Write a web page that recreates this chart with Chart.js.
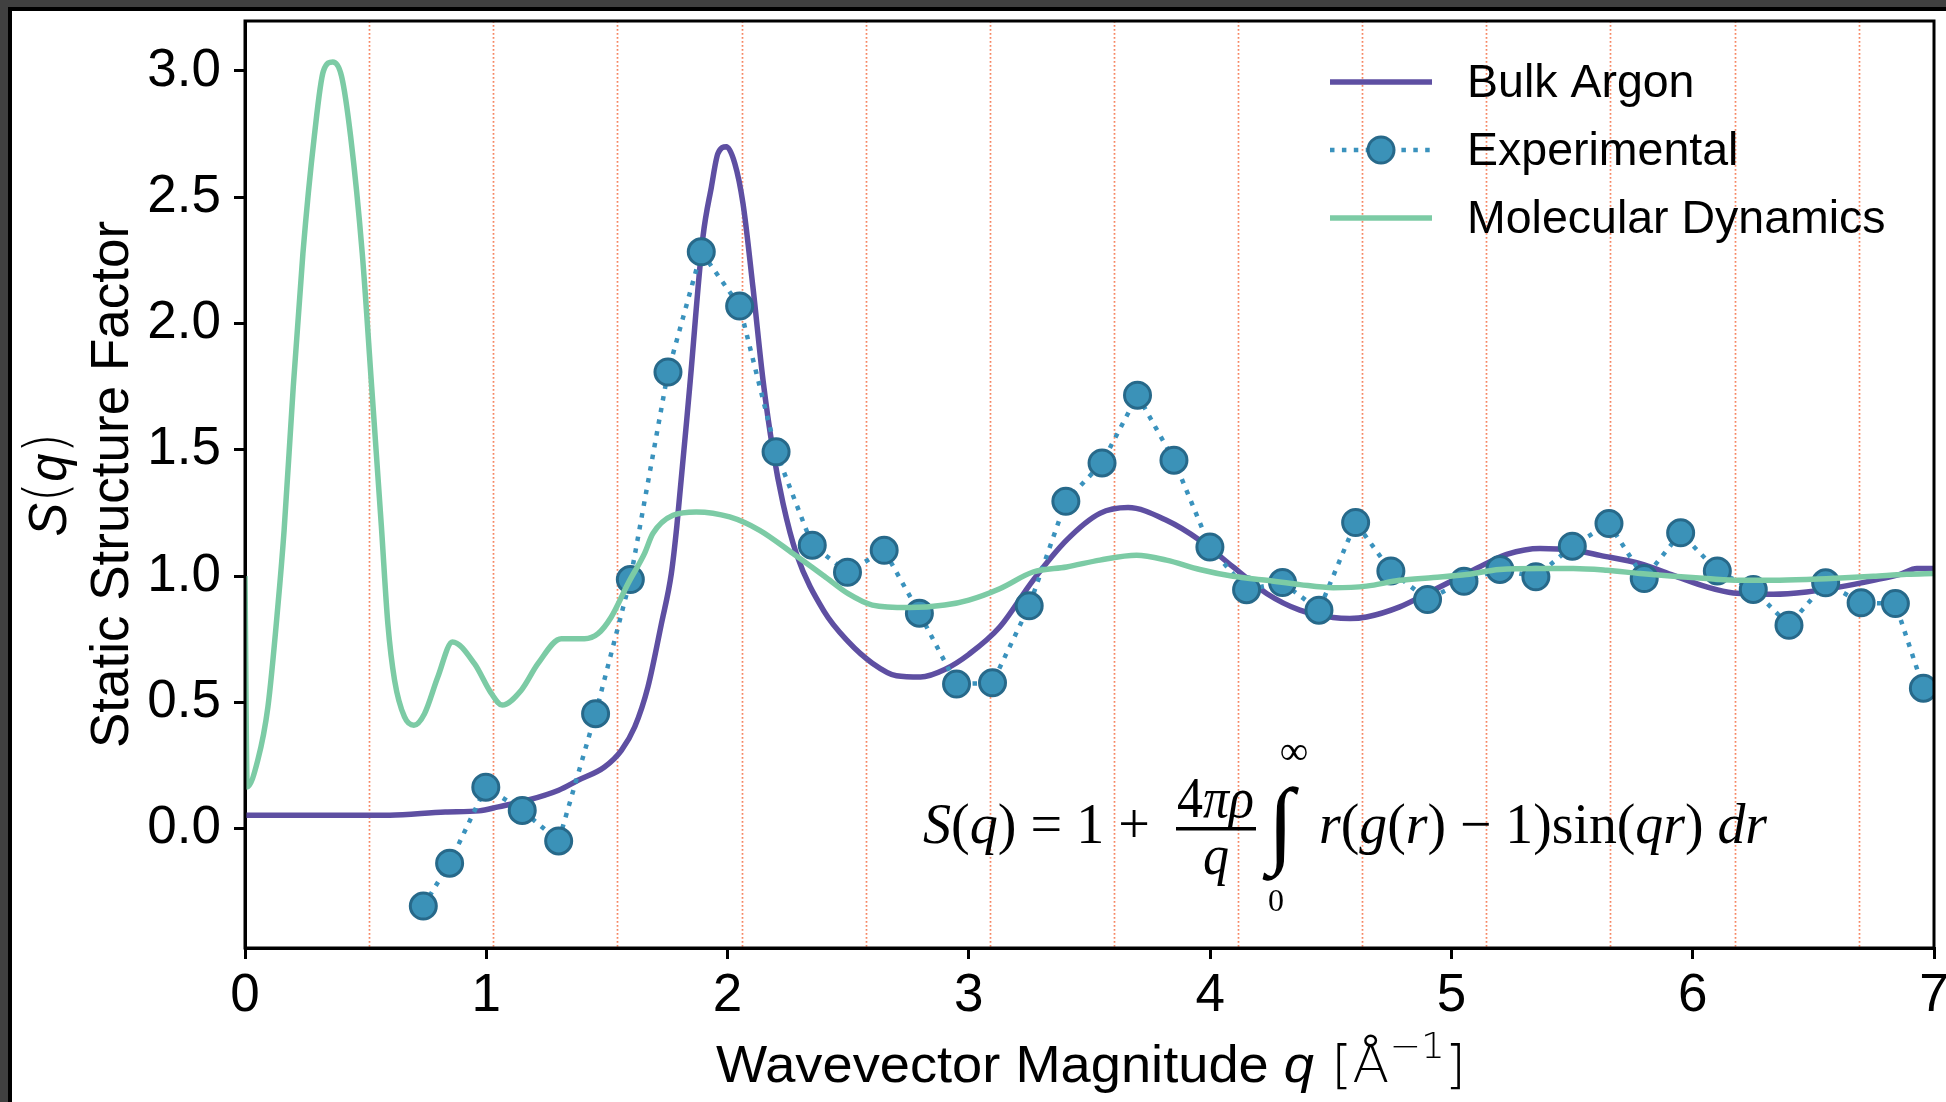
<!DOCTYPE html>
<html><head><meta charset="utf-8">
<script src="https://cdn.jsdelivr.net/npm/chart.js@4.4.1/dist/chart.umd.min.js"></script>
<style>
html,body{margin:0;padding:0;width:1946px;height:1102px;overflow:hidden;background:#404040;}
#frame{position:absolute;left:8px;top:7px;width:1980px;height:1130px;background:#fff;border-left:4px solid #000;border-top:4px solid #000;}
#wrap{position:absolute;left:0;top:0;width:1960px;height:1102px;}
</style></head><body>
<div id="frame"></div>
<div id="wrap"><canvas id="c" width="1960" height="1102"></canvas></div>
<script>
// ---- data ----
const xTicks = [0,1,2,3,4,5,6,7];
const yTicks = [0,0.5,1.0,1.5,2.0,2.5,3.0];
const refLineQ = [0.514,1.029,1.543,2.058,2.572,3.087,3.601,4.116,4.630,5.145,5.659,6.174,6.688];

const argonQ = [0.0,0.3,0.6,0.83,0.97,1.05,1.17,1.30,1.38,1.49,1.56,1.615,1.67,1.726,1.767,1.79,1.843,1.898,1.933,1.96,1.995,2.03,2.064,2.105,2.147,2.188,2.23,2.285,2.4,2.5,2.6,2.7,2.8,2.9,3.0,3.128,3.266,3.405,3.543,3.66,3.819,3.957,4.095,4.234,4.372,4.51,4.579,4.648,4.786,4.925,5.063,5.173,5.229,5.367,5.505,5.616,5.782,5.92,6.058,6.168,6.334,6.472,6.611,6.749,6.859,6.929,7.0];
const argonS = [0.053,0.053,0.053,0.066,0.07,0.086,0.112,0.152,0.191,0.244,0.31,0.402,0.561,0.812,1.01,1.2,1.749,2.343,2.541,2.673,2.70,2.634,2.475,2.145,1.775,1.498,1.287,1.089,0.86,0.74,0.655,0.605,0.6,0.63,0.69,0.798,0.983,1.142,1.248,1.271,1.221,1.142,1.036,0.931,0.865,0.836,0.832,0.838,0.878,0.944,1.01,1.063,1.086,1.109,1.102,1.082,1.049,1.003,0.957,0.933,0.928,0.937,0.957,0.983,1.007,1.03,1.03];

const expQ = [0.739,0.848,0.998,1.149,1.300,1.453,1.597,1.753,1.891,2.050,2.201,2.351,2.497,2.649,2.795,2.949,3.098,3.25,3.402,3.552,3.699,3.850,3.999,4.151,4.30,4.451,4.603,4.749,4.901,5.052,5.201,5.35,5.501,5.653,5.799,5.95,6.102,6.251,6.399,6.551,6.698,6.84,6.956];
const expS = [-0.307,-0.137,0.164,0.072,-0.049,0.455,0.986,1.808,2.284,2.069,1.492,1.122,1.015,1.102,0.853,0.572,0.577,0.882,1.296,1.448,1.716,1.459,1.115,0.946,0.974,0.865,1.212,1.020,0.907,0.979,1.026,0.997,1.118,1.208,0.990,1.171,1.020,0.947,0.805,0.973,0.894,0.891,0.556];

const mdQ = [0.0,0.009,0.053,0.095,0.136,0.162,0.2,0.24,0.287,0.325,0.364,0.40,0.438,0.486,0.525,0.565,0.592,0.62,0.661,0.70,0.744,0.799,0.86,0.951,1.021,1.066,1.145,1.214,1.311,1.407,1.463,1.518,1.59,1.656,1.69,1.774,1.87,2.009,2.133,2.271,2.4,2.5,2.6,2.75,2.9,3.0,3.128,3.266,3.405,3.543,3.695,3.819,3.957,4.095,4.234,4.372,4.51,4.648,4.786,4.925,5.063,5.2,5.367,5.505,5.643,5.782,5.92,6.058,6.196,6.334,6.472,6.611,6.749,6.887,7.0];
const mdS = [1.0,0.165,0.271,0.482,0.878,1.18,1.749,2.277,2.739,3.0,3.036,2.98,2.739,2.277,1.749,1.2,0.812,0.587,0.442,0.409,0.455,0.6,0.739,0.653,0.535,0.489,0.548,0.653,0.752,0.752,0.772,0.838,0.975,1.09,1.168,1.241,1.254,1.234,1.181,1.089,1.0,0.93,0.885,0.875,0.885,0.905,0.950,1.016,1.036,1.063,1.082,1.063,1.026,0.999,0.983,0.966,0.954,0.96,0.983,0.994,1.006,1.026,1.03,1.03,1.023,1.01,0.999,0.99,0.983,0.983,0.986,0.992,0.999,1.007,1.01];

const seriesLabels = ['Bulk Argon','Experimental','Molecular Dynamics'];

// ---- helpers ----
const pts = (qs, ss) => qs.map((q,i)=>({x:q, y:ss[i]}));
const SANS = 'Liberation Sans';
const SERIF = 'Liberation Serif';

function drawRun(ctx, tokens, x0, x1, baseY){
  let w = 0;
  tokens.forEach(t=>{ ctx.font = t[1]; w += ctx.measureText(t[0]).width; });
  const s = (x1 - x0) / w;
  ctx.save();
  ctx.translate(x0, baseY);
  ctx.scale(s, 1);
  ctx.textAlign = 'left'; ctx.textBaseline = 'alphabetic';
  let cx = 0;
  tokens.forEach(t=>{ ctx.font = t[1]; ctx.fillText(t[0], cx, t[2]||0); cx += ctx.measureText(t[0]).width; });
  ctx.restore();
}

const decor = {
  id: 'decor',
  beforeDatasetsDraw(chart){
    const {ctx, chartArea:a, scales:{x}} = chart;
    ctx.save();
    ctx.strokeStyle = 'rgba(245,120,80,0.9)';
    ctx.lineWidth = 1.7;
    ctx.setLineDash([1.7,2.3]);
    refLineQ.forEach(q=>{
      const px = Math.round(x.getPixelForValue(q)) + 0.5;
      ctx.beginPath(); ctx.moveTo(px, a.top); ctx.lineTo(px, a.bottom); ctx.stroke();
    });
    ctx.restore();
  },
  afterDraw(chart){
    const {ctx, chartArea:a} = chart;
    ctx.save();
    // frame
    ctx.strokeStyle = '#000'; ctx.lineWidth = 3; ctx.setLineDash([]);
    ctx.strokeRect(a.left, a.top, a.right - a.left, a.bottom - a.top);

    // legend
    const ds = chart.data.datasets;
    const hx0 = a.right - 604, hx1 = a.right - 502, tx = a.right - 467;
    const rows = [a.top + 61, a.top + 129, a.top + 197];
    ds.forEach((d, i)=>{
      const y = rows[i];
      ctx.save();
      ctx.strokeStyle = d.borderColor; ctx.lineWidth = d.borderWidth;
      ctx.setLineDash(d.borderDash || []);
      ctx.beginPath(); ctx.moveTo(hx0, y); ctx.lineTo(hx1, y); ctx.stroke();
      if (d.pointRadius > 0){
        ctx.setLineDash([]);
        ctx.beginPath(); ctx.arc((hx0+hx1)/2, y, d.pointRadius, 0, Math.PI*2);
        ctx.fillStyle = d.pointBackgroundColor; ctx.fill();
        ctx.lineWidth = d.pointBorderWidth; ctx.strokeStyle = d.pointBorderColor; ctx.stroke();
      }
      ctx.restore();
      ctx.fillStyle = '#000';
      ctx.font = '46.5px ' + SANS;
      ctx.textAlign = 'left'; ctx.textBaseline = 'middle';
      ctx.fillText(seriesLabels[i], tx, y + 2);
    });

    // x title
    ctx.fillStyle = '#000';
    drawRun(ctx, [
      ['Wavevector Magnitude ', '52px ' + SANS],
      ['q', 'italic 52px ' + SANS],
      [' [Å', '200 52px DejaVu Sans'],
      ['\u22121', '200 36px DejaVu Sans', -24],
      [']', '200 52px DejaVu Sans']
    ], 716, 1466, 1082);

    // y title
    const cy = (a.top + a.bottom) / 2;
    ctx.save();
    ctx.translate(128, cy); ctx.rotate(-Math.PI/2);
    ctx.font = '53px ' + SANS; ctx.textAlign = 'center'; ctx.textBaseline = 'alphabetic';
    ctx.fillText('Static Structure Factor', 0, 0);
    ctx.restore();
    ctx.save();
    ctx.translate(66, cy); ctx.rotate(-Math.PI/2);
    const sq = [['S','italic 54px ' + SANS],['(','200 58px DejaVu Sans'],['q','italic 54px ' + SANS],[')','200 58px DejaVu Sans']];
    drawRun(ctx, sq, -52, 52, 0);
    ctx.restore();

    // formula
    const it = 'italic 57px ' + SERIF, rm = '57px ' + SERIF;
    drawRun(ctx, [['S',it],['(',rm],['q',it],[')',rm],[' = 1 +',rm]], 923, 1150, 843);
    ctx.fillRect(1176, 827, 80, 3.5);
    drawRun(ctx, [['4',rm],['\u03c0',it],['\u03c1',it]], 1177, 1254, 817);
    drawRun(ctx, [['q',it]], 1203, 1229, 874);
    ctx.save();
    ctx.font = '96px ' + SERIF; ctx.textAlign = 'center'; ctx.textBaseline = 'alphabetic';
    ctx.fillText('\u222b', 1281, 855);
    ctx.font = '40px ' + SERIF;
    ctx.fillText('\u221e', 1294, 764);
    ctx.font = '32px ' + SERIF;
    ctx.fillText('0', 1276, 911);
    ctx.restore();
    drawRun(ctx, [['r',it],['(',rm],['g',it],['(',rm],['r',it],[')',rm],[' \u2212 1)',rm],['sin(',rm],['q',it],['r',it],[')',rm],[' ',rm],['d',it],['r',it]], 1319, 1767, 843);
    ctx.restore();
  }
};

const tickFont = {family: SANS, size: 53};
const zeroPad = s => { s.paddingTop = 0; s.paddingBottom = 0; s.paddingLeft = 0; s.paddingRight = 0; };
new Chart(document.getElementById('c'), {
  type: 'scatter',
  data: { datasets: [
    {label: seriesLabels[0], data: pts(argonQ, argonS), showLine: true, borderColor: '#5e4fa2', borderWidth: 5.5, pointRadius: 0, cubicInterpolationMode: 'monotone', order: 3},
    {label: seriesLabels[1], data: pts(expQ, expS), showLine: true, borderColor: '#3a92bd', borderWidth: 4.5, borderDash: [4.5,7.4], pointRadius: 13, pointBackgroundColor: '#3b92b8', pointBorderColor: '#27698a', pointBorderWidth: 3, order: 2},
    {label: seriesLabels[2], data: pts(mdQ, mdS), showLine: true, borderColor: '#7ccba5', borderWidth: 5.5, pointRadius: 0, cubicInterpolationMode: 'monotone', order: 1}
  ]},
  options: {
    responsive: false, animation: false, devicePixelRatio: 1, events: [],
    layout: {padding: {left: 0, top: 21, right: 26, bottom: 0}},
    plugins: {legend: {display: false}, tooltip: {enabled: false}},
    scales: {
      x: {type: 'linear', min: 0, max: 7,
        afterBuildTicks: s => { s.ticks = xTicks.map(v => ({value: v})); },
        afterFit: s => { s.height = 154; zeroPad(s); },
        ticks: {font: tickFont, color: '#000', padding: 6, maxRotation: 0, autoSkip: false, callback: v => String(v)},
        grid: {drawOnChartArea: false, drawTicks: true, tickLength: 11, color: '#000', lineWidth: 3},
        border: {display: true, color: '#000', width: 3}},
      y: {type: 'linear', min: -0.473, max: 3.198,
        afterBuildTicks: s => { s.ticks = yTicks.map(v => ({value: v})); },
        afterFit: s => { s.width = 245; zeroPad(s); },
        ticks: {font: tickFont, color: '#000', padding: 13, callback: v => Number(v).toFixed(1)},
        grid: {drawOnChartArea: false, drawTicks: true, tickLength: 11, color: '#000', lineWidth: 3},
        border: {display: true, color: '#000', width: 3}}
    }
  },
  plugins: [decor]
});
</script>
</body></html>
